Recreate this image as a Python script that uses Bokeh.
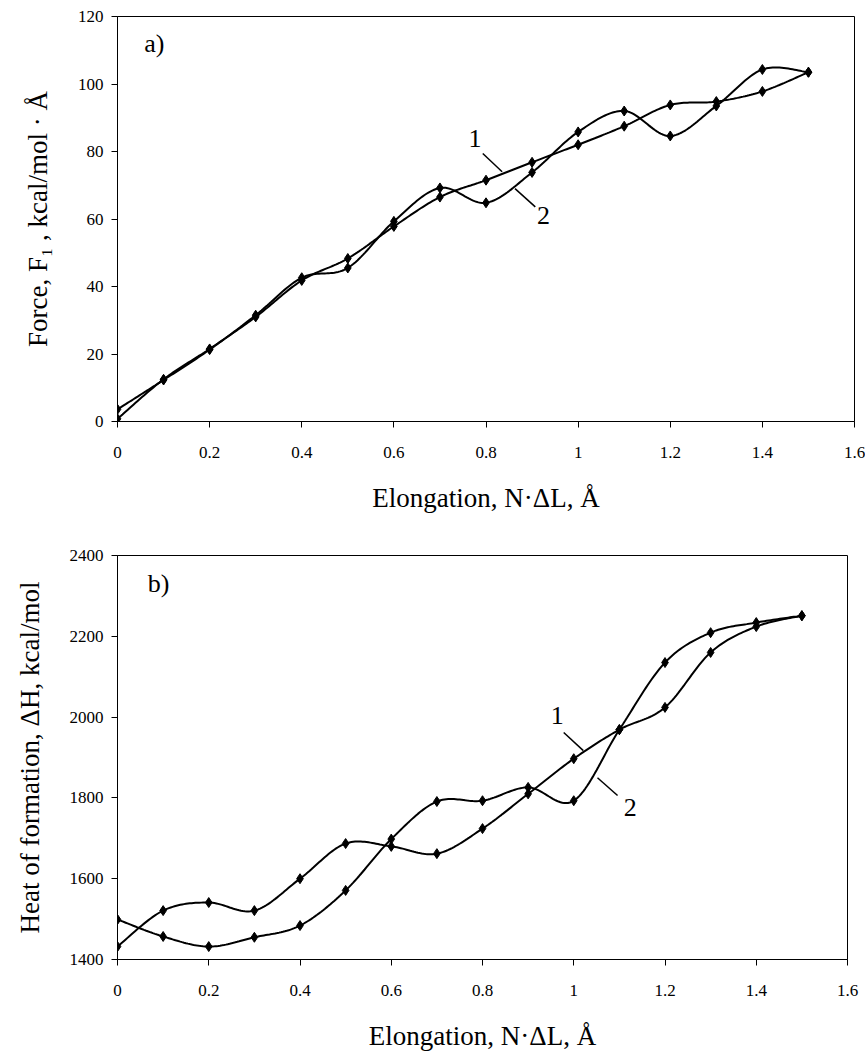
from bokeh.plotting import figure
from bokeh.layouts import column
from bokeh.models import Label, FixedTicker, CustomJSTickFormatter
from bokeh.embed import file_html
from bokeh.resources import INLINE

# ---- data ----
elong = [0.0, 0.1, 0.2, 0.3, 0.4, 0.5, 0.6, 0.7, 0.8, 0.9, 1.0, 1.1, 1.2, 1.3, 1.4, 1.5]
force_1 = [0.8, 12.5, 21.5, 31.0, 41.8, 48.3, 57.8, 66.5, 71.5, 76.8, 82.0, 87.5, 93.8, 94.8, 97.8, 103.5]
force_2 = [3.6, 12.3, 21.3, 31.5, 42.6, 45.5, 59.3, 69.2, 64.8, 73.8, 85.8, 92.0, 84.6, 93.5, 104.3, 103.5]
heat_1 = [1432, 1521, 1541, 1521, 1600, 1687, 1680, 1662, 1724, 1810, 1897, 1969, 2024, 2160, 2224, 2251]
heat_2 = [1499, 1457, 1432, 1455, 1484, 1571, 1698, 1791, 1793, 1826, 1793, 1969, 2135, 2209, 2234, 2251]
x_ticks = [0, 0.2, 0.4, 0.6, 0.8, 1.0, 1.2, 1.4, 1.6]
force_ticks = [0, 20, 40, 60, 80, 100, 120]
heat_ticks = [1400, 1600, 1800, 2000, 2200, 2400]

FONT = "Liberation Serif"


def smooth(xs, ys, n=24):
    """Bezier (Catmull-Rom style) smoothing through the data points, for drawing."""
    m = len(xs)
    ox, oy = [], []
    for i in range(m - 1):
        x0, y0 = (xs[i - 1], ys[i - 1]) if i > 0 else (xs[i], ys[i])
        x1, y1 = xs[i], ys[i]
        x2, y2 = xs[i + 1], ys[i + 1]
        x3, y3 = (xs[i + 2], ys[i + 2]) if i + 2 < m else (x2, y2)
        c1x, c1y = x1 + (x2 - x0) / 6, y1 + (y2 - y0) / 6
        c2x, c2y = x2 - (x3 - x1) / 6, y2 - (y3 - y1) / 6
        for k in range(n):
            t = k / n
            a, b, c, d = (1 - t) ** 3, 3 * t * (1 - t) ** 2, 3 * t ** 2 * (1 - t), t ** 3
            ox.append(a * x1 + b * c1x + c * c2x + d * x2)
            oy.append(a * y1 + b * c1y + c * c2y + d * y2)
    ox.append(xs[-1]); oy.append(ys[-1])
    return ox, oy


fmt = CustomJSTickFormatter(code="var s = tick.toFixed(1); return s.endsWith('.0') ? s.slice(0, -2) : s;")


def make_fig(yrange, yticks, ylabel, fw, fh, left, right, top, bottom):
    p = figure(output_backend="svg", toolbar_location=None,
               frame_width=fw, frame_height=fh,
               x_range=(0, 1.6), y_range=yrange,
               min_border_left=left, min_border_right=right,
               min_border_top=top, min_border_bottom=bottom)
    p.grid.visible = False
    p.outline_line_color = "black"
    p.outline_line_width = 1
    p.background_fill_color = "white"
    p.border_fill_color = "white"
    for ax in (p.xaxis[0], p.yaxis[0]):
        ax.axis_line_color = "black"
        ax.major_tick_line_color = "black"
        ax.minor_tick_line_color = None
        ax.major_tick_in = 0
        ax.major_tick_out = 6
        ax.major_label_text_font = FONT
        ax.major_label_text_font_size = "17px"
        ax.major_label_text_color = "black"
        ax.axis_label_text_font = FONT
        ax.axis_label_text_font_size = "27px"
        ax.axis_label_text_font_style = "normal"
        ax.axis_label_text_color = "black"
    p.xaxis.ticker = FixedTicker(ticks=x_ticks)
    p.xaxis.formatter = fmt
    p.xaxis.major_label_standoff = 19
    p.xaxis.axis_label = "Elongation, N\u00b7\u0394L, \u00c5"
    p.xaxis.axis_label_standoff = 22
    p.yaxis.ticker = FixedTicker(ticks=yticks)
    p.yaxis.major_label_standoff = 8
    p.yaxis.axis_label = ylabel
    p.yaxis.axis_label_standoff = 22
    return p


def add_series(p, ys):
    sx, sy = smooth(elong, ys)
    p.line(sx, sy, line_color="black", line_width=2)
    p.scatter(elong, ys, marker="diamond", size=10, fill_color="black", line_color="black")


def add_text(p, x, y, t, size="26px"):
    p.add_layout(Label(x=x, y=y, text=t, text_font=FONT, text_font_size=size,
                       text_color="black", text_baseline="middle", text_align="center"))


# ---- top: force ----
p1 = make_fig((0, 120), force_ticks, "Force, F\u2081 , kcal/mol \u00b7 \u00c5",
              737, 405, 113, 15, 16, 109)
add_series(p1, force_1)
add_series(p1, force_2)
add_text(p1, 0.08, 112, "a)")
add_text(p1, 0.776, 84, "1")
add_text(p1, 0.925, 61, "2")
p1.segment(x0=[0.793, 0.863], y0=[79.4, 69.0], x1=[0.835, 0.907], y1=[74.0, 63.6],
           line_color="black", line_width=1.5)

# ---- bottom: heat of formation ----
p2 = make_fig((1400, 2400), heat_ticks, "Heat of formation, \u0394H, kcal/mol",
              730, 404, 117, 18, 25, 94)
add_series(p2, heat_1)
add_series(p2, heat_2)
add_text(p2, 0.09, 2330, "b)")
add_text(p2, 0.964, 2004, "1")
add_text(p2, 1.124, 1776, "2")
p2.segment(x0=[0.978, 1.052], y0=[1962, 1850], x1=[1.021, 1.096], y1=[1917, 1806],
           line_color="black", line_width=1.5)

layout = column(p1, p2, spacing=0)
open("out.html", "w").write(file_html(layout, INLINE))
